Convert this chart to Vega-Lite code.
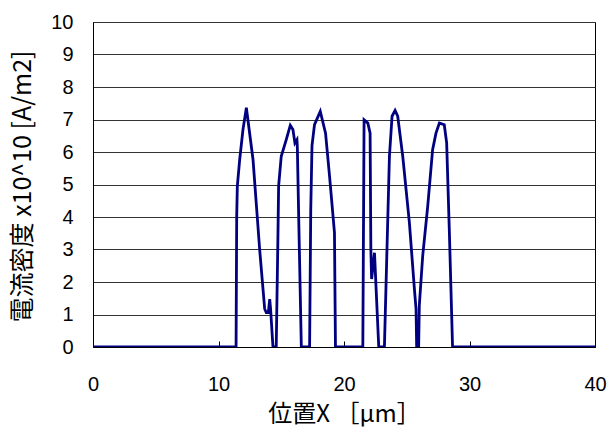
{
  "$schema": "https://vega.github.io/schema/vega-lite/v6.json",
  "width": 502,
  "height": 325,
  "autosize": "none",
  "padding": {"left": 93, "top": 22, "right": 14, "bottom": 87},
  "background": "white",
  "config": {
    "view": {"stroke": "#000000", "strokeWidth": 1},
    "axis": {"labelFont": "Liberation Sans", "labelFontSize": 20, "labelColor": "#000000", "titleColor": "#000000", "titleFont": "Noto Sans CJK JP", "titleFontWeight": "normal", "titleFontSize": 25}
  },
  "data": {"values": [
    {"x": 0, "y": 0}, {"x": 11.4, "y": 0}, {"x": 11.45, "y": 4.0}, {"x": 11.5, "y": 4.95},
    {"x": 11.69, "y": 5.77}, {"x": 11.95, "y": 6.69}, {"x": 12.22, "y": 7.36}, {"x": 12.75, "y": 5.77},
    {"x": 13.28, "y": 3.0}, {"x": 13.68, "y": 1.17}, {"x": 13.81, "y": 1.06}, {"x": 13.97, "y": 1.06},
    {"x": 14.08, "y": 1.47}, {"x": 14.15, "y": 1.17}, {"x": 14.34, "y": 0}, {"x": 14.6, "y": 0},
    {"x": 14.74, "y": 3.52}, {"x": 14.79, "y": 4.95}, {"x": 15.0, "y": 5.87}, {"x": 15.4, "y": 6.38},
    {"x": 15.72, "y": 6.82}, {"x": 15.93, "y": 6.69}, {"x": 16.09, "y": 6.28}, {"x": 16.25, "y": 6.38},
    {"x": 16.28, "y": 6.18}, {"x": 16.41, "y": 3.62}, {"x": 16.6, "y": 0}, {"x": 17.26, "y": 0},
    {"x": 17.35, "y": 4.2}, {"x": 17.45, "y": 6.2}, {"x": 17.65, "y": 6.84}, {"x": 18.11, "y": 7.25},
    {"x": 18.53, "y": 6.58}, {"x": 18.85, "y": 5.25}, {"x": 19.24, "y": 3.52}, {"x": 19.32, "y": 0},
    {"x": 21.5, "y": 0}, {"x": 21.6, "y": 6.99}, {"x": 21.9, "y": 6.89}, {"x": 22.08, "y": 6.58},
    {"x": 22.14, "y": 3.0}, {"x": 22.2, "y": 2.09}, {"x": 22.43, "y": 2.9}, {"x": 22.56, "y": 1.78},
    {"x": 22.77, "y": 0}, {"x": 23.22, "y": 0}, {"x": 23.41, "y": 2.8}, {"x": 23.62, "y": 5.87},
    {"x": 23.83, "y": 7.1}, {"x": 24.07, "y": 7.28}, {"x": 24.28, "y": 7.1}, {"x": 24.68, "y": 5.87},
    {"x": 25.21, "y": 3.83}, {"x": 25.61, "y": 1.78}, {"x": 25.74, "y": 1.17}, {"x": 25.79, "y": 0},
    {"x": 25.95, "y": 0}, {"x": 26.0, "y": 1.27}, {"x": 26.27, "y": 2.8}, {"x": 26.67, "y": 4.33},
    {"x": 27.06, "y": 6.07}, {"x": 27.33, "y": 6.58}, {"x": 27.6, "y": 6.89}, {"x": 27.99, "y": 6.84},
    {"x": 28.18, "y": 6.28}, {"x": 28.39, "y": 3.62}, {"x": 28.65, "y": 0}, {"x": 40, "y": 0}
  ]},
  "mark": {"type": "line", "color": "#000080", "strokeWidth": 2.8, "clip": true},
  "encoding": {
    "x": {
      "field": "x", "type": "quantitative",
      "scale": {"domain": [0, 40], "nice": false, "zero": false},
      "axis": {
        "values": [0, 10, 20, 30, 40], "grid": false, "domain": true, "domainColor": "#000000",
        "ticks": true, "tickSize": -6, "tickColor": "#000000", "labelPadding": 33,
        "labelBaseline": "top", "labelFlush": false, "labelOverlap": false,
        "title": "位置X ［μm］", "titleX": 251, "titleY": 67, "titleAnchor": "middle", "titleAlign": "center", "titleBaseline": "middle", "titleFontSize": 24
      }
    },
    "y": {
      "field": "y", "type": "quantitative",
      "scale": {"domain": [0, 10], "nice": false},
      "axis": {
        "values": [0, 1, 2, 3, 4, 5, 6, 7, 8, 9, 10], "grid": true, "gridColor": "#333333", "gridWidth": 1,
        "domain": true, "domainColor": "#000000", "ticks": false, "labelPadding": 20,
        "labelFlush": false, "labelOverlap": false,
        "title": "電流密度 x10^10 [A/m2]", "titleX": -71, "titleY": 164, "titleAngle": -90,
        "titleAlign": "center", "titleBaseline": "middle", "titleAnchor": "middle"
      }
    }
  }
}
